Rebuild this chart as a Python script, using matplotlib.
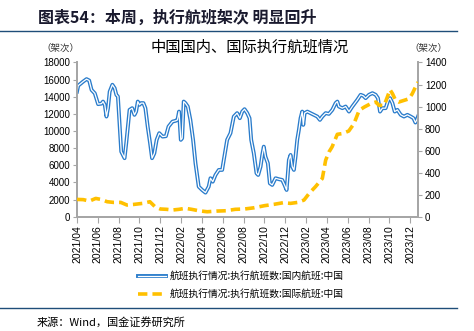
import matplotlib
matplotlib.use("Agg")
import matplotlib.pyplot as plt

plt.rcParams["font.family"] = ["Liberation Sans", "Noto Sans CJK SC"]
CJK = ["Noto Sans CJK SC", "DejaVu Sans"]

# meses desde 2021/04 e executados
dom_mes = [0.0, 0.12, 0.6, 0.92, 1.17, 1.4, 1.71, 2.03, 2.35, 2.5, 2.67, 2.83, 2.98, 3.14, 3.4,
           3.62, 3.78, 3.93, 4.1, 4.25, 4.41, 4.57, 4.73, 5.05, 5.3, 5.52, 5.68, 5.84, 6.0, 6.16,
           6.38, 6.57, 6.79, 7.02, 7.21, 7.43, 7.65, 7.9, 8.22, 8.54, 8.79, 9.17, 9.49, 9.65, 9.8,
           9.97, 10.1, 10.25, 10.41, 10.64, 10.89, 11.15, 11.38, 11.69, 12.02, 12.34, 12.65, 12.82,
           13.04, 13.3, 13.62, 13.94, 14.1, 14.42, 14.74, 15.06, 15.38, 15.64, 15.87, 16.09, 16.35,
           16.57, 16.73, 16.98, 17.24, 17.4, 17.63, 17.79, 17.94, 18.1, 18.33, 18.52, 18.75, 19.07,
           19.38, 19.71, 19.93, 20.13, 20.35, 20.51, 20.67, 20.83, 20.99, 21.15, 21.31, 21.47,
           21.63, 21.73, 21.86, 22.12, 22.43, 22.75, 23.08, 23.33, 23.56, 23.88, 24.19, 24.52,
           24.84, 25.0, 25.15, 25.48, 25.8, 26.12, 26.44, 26.92, 27.24, 27.5, 27.72, 28.04, 28.37,
           28.68, 28.9, 29.1, 29.33, 29.64, 29.9, 30.06, 30.29, 30.51, 30.77, 31.09, 31.4, 31.73,
           32.05, 32.31, 32.5, 32.63, 32.75]
dom_val = [14600, 15300, 15780, 16060, 15900, 14800, 14400, 13140, 13200, 13440, 13060, 11690,
           12670, 14600, 15400, 15000, 14230, 14030, 10520, 7600, 7210, 6830, 8580, 12470, 12670,
           11890, 12270, 13440, 13060, 13260, 13260, 12670, 10520, 8580, 6830, 7410, 8970, 9750,
           9350, 9400, 10520, 11100, 11200, 11300, 12270, 8970, 9160, 13440, 13260, 12860, 11300,
           8970, 6240, 3510, 3120, 2810, 3510, 4490, 4090, 4870, 5460, 5460, 6630, 8970, 9750,
           11690, 12090, 11500, 12270, 12550, 12090, 11500, 8970, 7410, 5070, 4870, 5850, 7210,
           8180, 7010, 6240, 3900, 3710, 4490, 4380, 4290, 3710, 3120, 6630, 7210, 5850, 5460,
           7010, 8970, 10140, 11500, 12270, 10720, 12090, 12270, 12090, 11890, 11690, 11300, 11690,
           12090, 12000, 12470, 13260, 13440, 12860, 12670, 12860, 12270, 12860, 13640, 14230,
           14110, 13840, 14230, 14420, 14230, 13840, 12270, 12670, 12670, 13640, 13840, 13260,
           12270, 12470, 11890, 11690, 11890, 11690, 11500, 10990, 11300, 11690]

int_mes = [0.0, 0.6, 1.2, 1.8, 2.3, 2.9, 3.5, 4.2, 4.8, 5.5, 6.3, 7.0, 7.5, 8.0, 8.6, 9.2, 9.8,
           10.4, 11.0, 11.7, 12.5, 13.4, 14.3, 15.2, 16.1, 17.0, 18.0, 18.9, 19.8, 20.5, 21.2,
           21.8, 22.3, 22.9, 23.56, 23.88, 24.2, 24.5, 25.0, 25.5, 26.1, 26.6, 27.1, 27.6, 28.2,
           28.7, 29.0, 29.5, 29.8, 30.06, 30.3, 30.6, 30.9, 31.4, 31.9, 32.2, 32.5, 32.75]
int_val = [157, 155, 142, 166, 157, 136, 130, 130, 106, 112, 121, 136, 90, 70, 67, 61, 67, 76,
           67, 54, 45, 51, 54, 67, 70, 81, 100, 112, 127, 121, 130, 151, 212, 272, 347, 513, 588,
           634, 748, 755, 778, 845, 966, 996, 1026, 1041, 1011, 1011, 1086, 1153, 1117, 1056,
           1041, 1056, 1071, 1117, 1176, 1222]

tick_mes = list(range(0, 33, 2))
tick_labels = ["2021/04", "2021/06", "2021/08", "2021/10", "2021/12", "2022/02", "2022/04",
               "2022/06", "2022/08", "2022/10", "2022/12", "2023/02", "2023/04", "2023/06",
               "2023/08", "2023/10", "2023/12"]
nome_dom = "航班执行情况:执行航班数:国内航班:中国"
nome_int = "航班执行情况:执行航班数:国际航班:中国"

AZUL = "#2a7ccb"
AMARELO = "#ffc000"
CINZA = "#a6a6a6"

fig = plt.figure(figsize=(4.74, 3.31), dpi=100)
ax = fig.add_axes([0.1624, 0.3453, 0.7195, 0.4659])
ax2 = ax.twinx()

l1, = ax.plot(dom_mes, dom_val, color=AZUL, lw=2.8, solid_joinstyle="round", zorder=3)
ax.plot(dom_mes, dom_val, color="white", lw=0.9, solid_joinstyle="round", zorder=4)
l2, = ax2.plot(int_mes, int_val, color=AMARELO, lw=2.6, dashes=(2.6, 1.4), zorder=3)

ax.set_xlim(0, 32.75)
ax.set_ylim(0, 18000)
ax2.set_ylim(0, 1400)
ax.set_yticks(range(0, 18001, 2000))
ax2.set_yticks(range(0, 1401, 200))
ax.set_xticks(tick_mes)
ax.set_xticklabels(tick_labels, rotation=90, fontsize=7.5)
ax.tick_params(axis="y", labelsize=7, color=CINZA, length=3, pad=2)
ax2.tick_params(axis="y", labelsize=7, color=CINZA, length=3, pad=2)
ax.tick_params(axis="x", color=CINZA, length=4, pad=2)

for a in (ax, ax2):
    a.spines["top"].set_visible(False)
    for s in ("left", "right", "bottom"):
        a.spines[s].set_color(CINZA)
        a.spines[s].set_linewidth(1.3)

# títulos e textos
fig.text(38 / 474, 1 - 18 / 331, "图表54：本周，执行航班架次 明显回升", family=CJK,
         fontsize=11.5, fontweight="bold", color="#1a1a2e", va="center", ha="left")
fig.add_artist(plt.Line2D([0, 457 / 474], [1 - 31 / 331] * 2, color="#1f4e79", lw=1.0))
fig.add_artist(plt.Line2D([0, 457 / 474], [1 - 308 / 331] * 2, color="#1f4e79", lw=1.0))
fig.text(250 / 474, 1 - 47 / 331, "中国国内、国际执行航班情况", family=CJK, fontsize=11,
         ha="center", va="center")
fig.text(60 / 474, 1 - 48 / 331, "（架次）", family=CJK, fontsize=6.8, ha="center", va="center",
         color="#333333")
fig.text(428 / 474, 1 - 48 / 331, "（架次）", family=CJK, fontsize=6.8, ha="center", va="center",
         color="#333333")
fig.text(37 / 474, 1 - 322 / 331, "来源：Wind，国金证券研究所", family=CJK, fontsize=8,
         ha="left", va="center")

# legenda manual
for y, estilo, nome in [(275.5, "dom", nome_dom), (293.5, "int", nome_int)]:
    yf = 1 - y / 331
    if estilo == "dom":
        fig.add_artist(plt.Line2D([138 / 474, 166 / 474], [yf, yf], color=AZUL, lw=2.8))
        fig.add_artist(plt.Line2D([138 / 474, 166 / 474], [yf, yf], color="white", lw=0.9))
    else:
        fig.add_artist(plt.Line2D([138 / 474, 166 / 474], [yf, yf], color=AMARELO, lw=2.6,
                                  dashes=(2.6, 1.4)))
    fig.text(170 / 474, yf, nome, family=CJK, fontsize=7, ha="left", va="center")

fig.savefig("out.png", dpi=100)
